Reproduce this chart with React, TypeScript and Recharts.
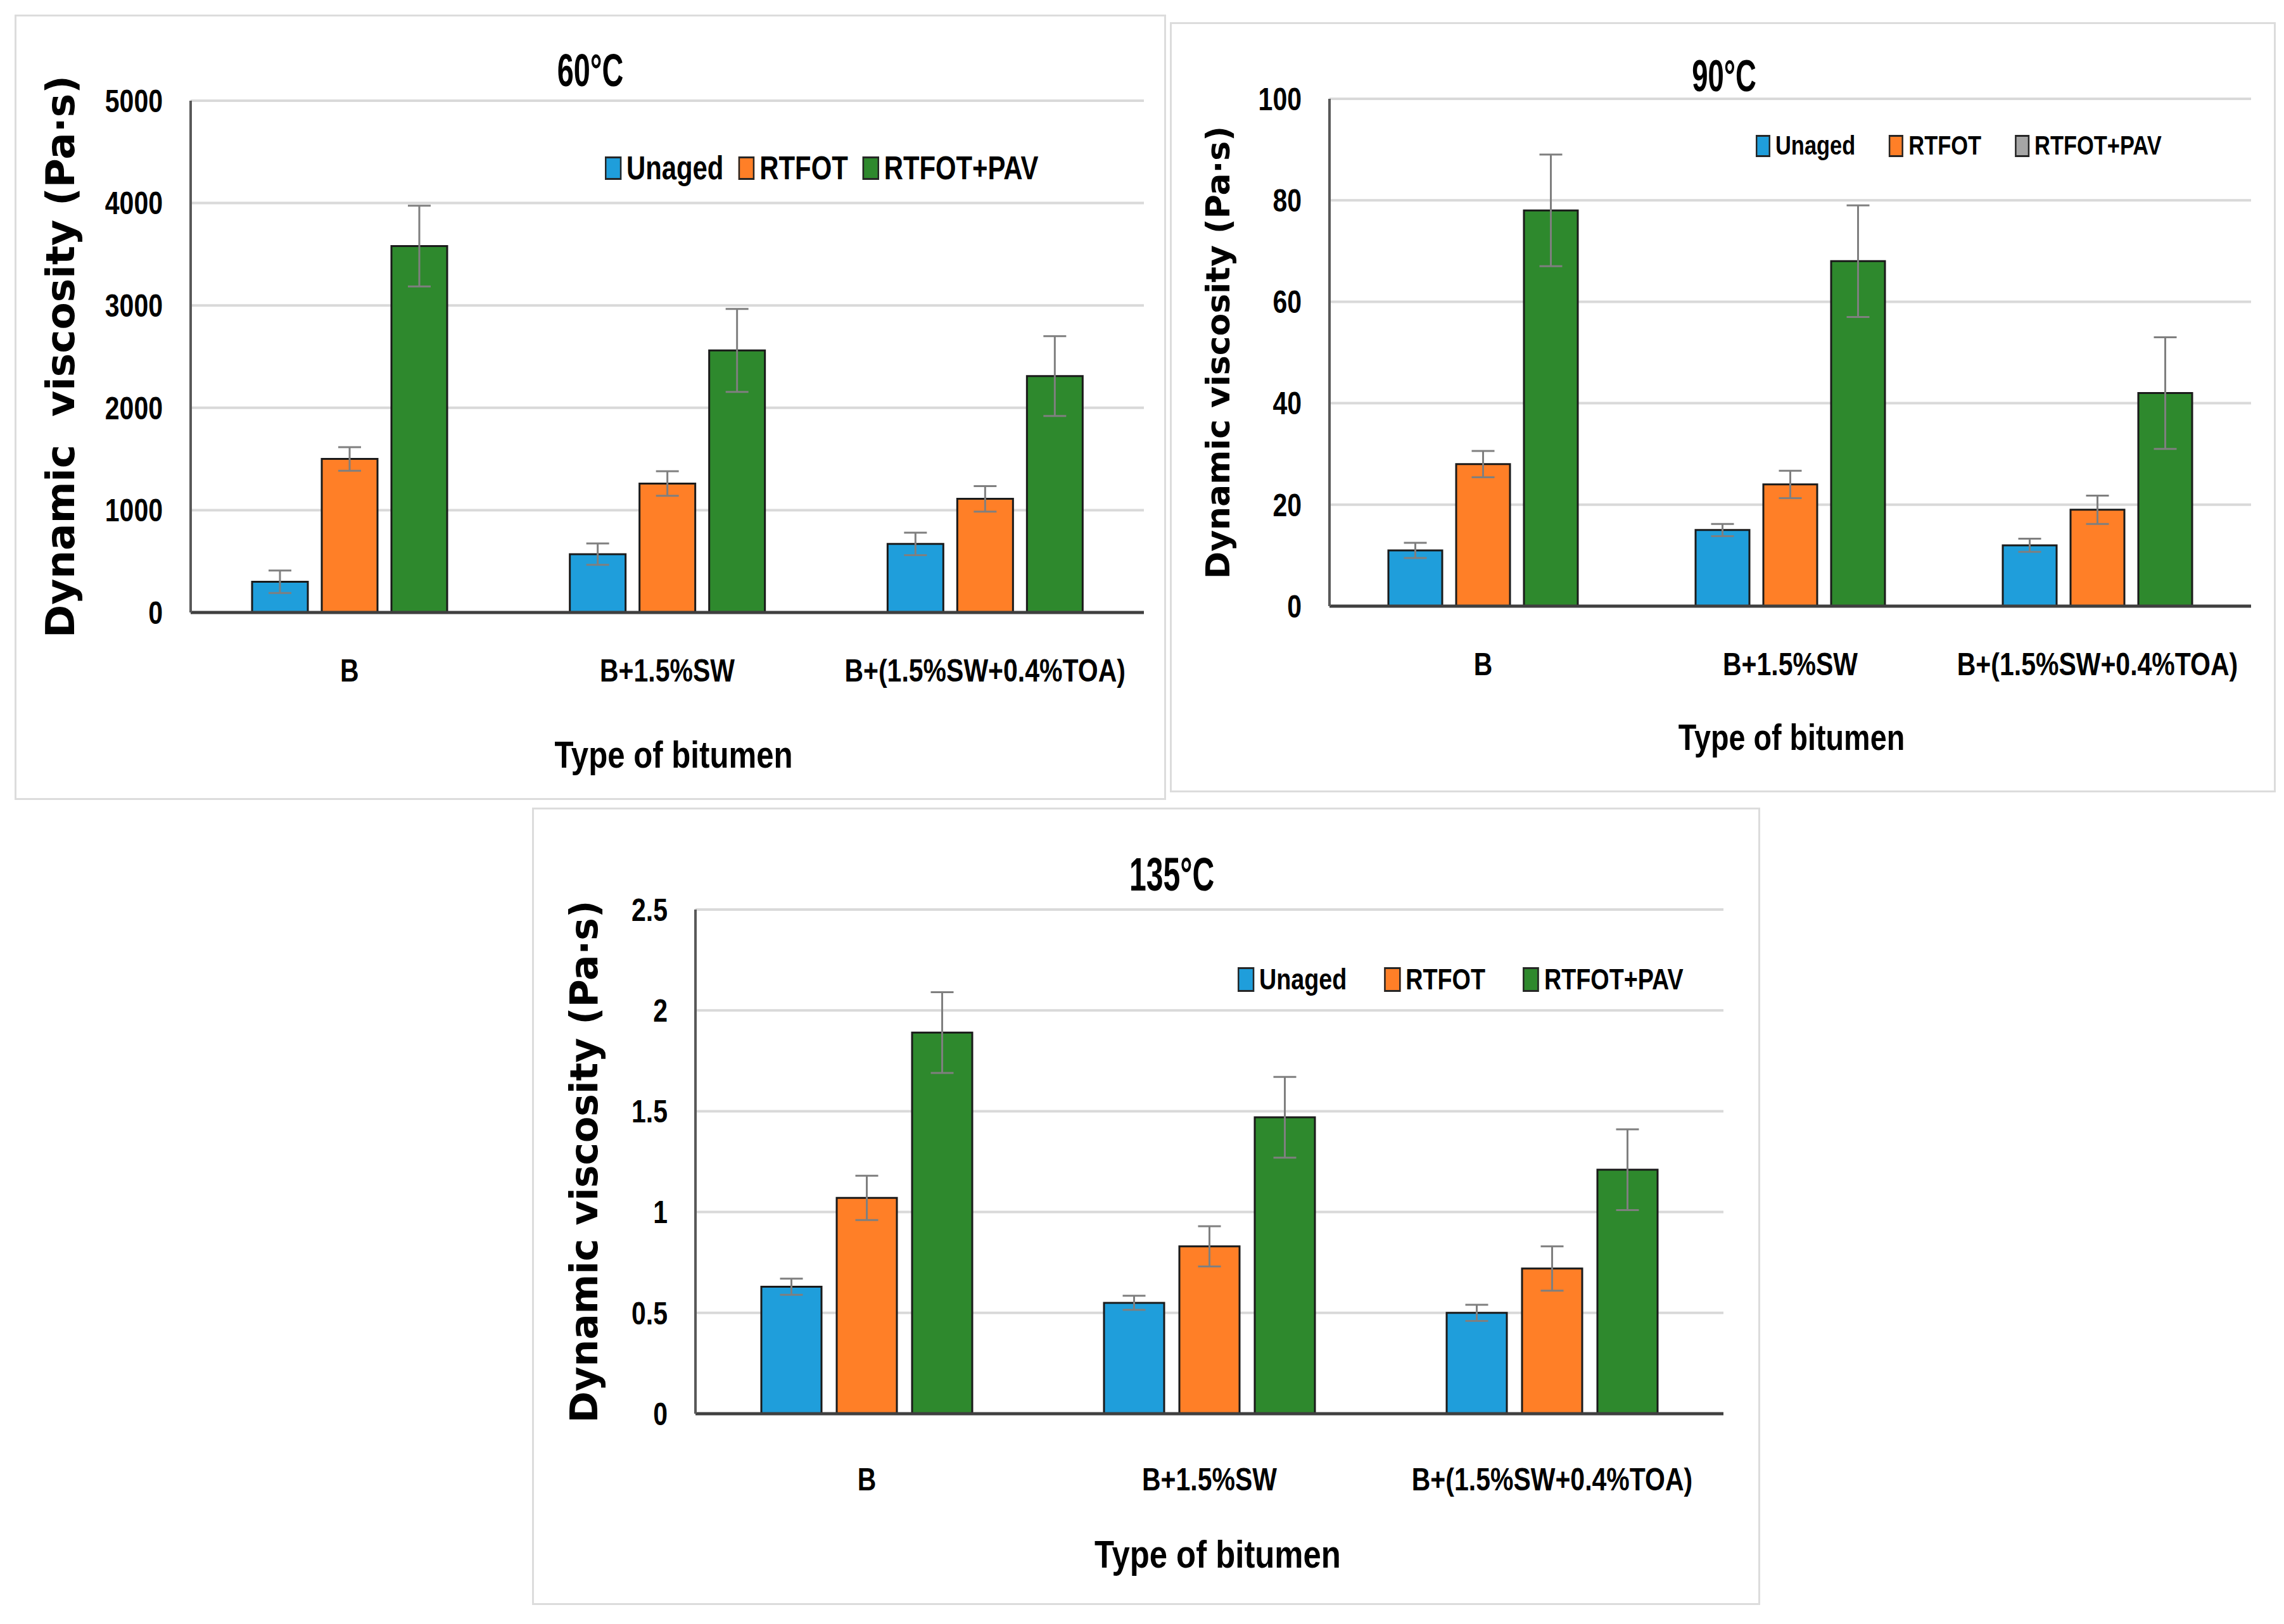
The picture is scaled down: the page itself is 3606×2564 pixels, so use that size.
import React from "react";
import { BarChart, Bar, XAxis, YAxis, CartesianGrid, ErrorBar, Legend } from "recharts";

const categories = ["B", "B+1.5%SW", "B+(1.5%SW+0.4%TOA)"];
const seriesNames = ["Unaged", "RTFOT", "RTFOT+PAV"];

// 60 °C
const unaged60 = [300, 570, 670];
const unaged60Err = [110, 105, 110];
const rtfot60 = [1500, 1260, 1110];
const rtfot60Err = [115, 120, 125];
const pav60 = [3580, 2560, 2310];
const pav60Err = [395, 405, 390];
const ticks60 = [0, 1000, 2000, 3000, 4000, 5000];

// 90 °C
const unaged90 = [11, 15, 12];
const unaged90Err = [1.5, 1.2, 1.3];
const rtfot90 = [28, 24, 19];
const rtfot90Err = [2.6, 2.7, 2.8];
const pav90 = [78, 68, 42];
const pav90Err = [11, 11, 11];
const ticks90 = [0, 20, 40, 60, 80, 100];

// 135 °C
const unaged135 = [0.63, 0.55, 0.5];
const unaged135Err = [0.04, 0.035, 0.04];
const rtfot135 = [1.07, 0.83, 0.72];
const rtfot135Err = [0.11, 0.1, 0.11];
const pav135 = [1.89, 1.47, 1.21];
const pav135Err = [0.2, 0.2, 0.2];
const ticks135 = [0, 0.5, 1, 1.5, 2, 2.5];

const BLUE = "#1f9edb";
const ORANGE = "#ff7f27";
const GREEN = "#2e892d";
const GREY = "#a6a6a6";

// Liberation Sans squeezed horizontally stands in for the narrow font of the original
const NARROW = "'Liberation Sans', Arial, sans-serif";
const SX = 0.82;
const WIDE = "'DejaVu Sans', Verdana, sans-serif";

function buildRows(u: number[], ue: number[], r: number[], re: number[], p: number[], pe: number[]) {
  return categories.map((name, i) => ({
    name,
    unaged: u[i],
    unagedErr: ue[i],
    rtfot: r[i],
    rtfotErr: re[i],
    pav: p[i],
    pavErr: pe[i],
  }));
}

const panels = [
  {
    key: "p60",
    rows: buildRows(unaged60, unaged60Err, rtfot60, rtfot60Err, pav60, pav60Err),
    ticks: ticks60,
    legendColors: [BLUE, ORANGE, GREEN],
    title: "60°C",
    yTitle: "Dynamic\u00a0 viscosity (Pa·s)",
    left: 23, top: 23, width: 1818, height: 1240,
    plotTop: 136, plotRight: 35, yWidth: 278, xHeight: 296,
    barSize: 88, barGap: 22,
    titleX: 909, titleY: 88, titleSize: 72,
    yTitleX: 72, yTitleSize: 63,
    xTickMargin: 73, xTitleOffset: 51, xTitleSize: 60, xTitleDx: 10,
    lg: { left: 932, cy: 242, font: 51, boxW: 26, boxH: 37, gap: 8, spacing: 23 },
  },
  {
    key: "p90",
    rows: buildRows(unaged90, unaged90Err, rtfot90, rtfot90Err, pav90, pav90Err),
    ticks: ticks90,
    legendColors: [BLUE, ORANGE, GREY],
    title: "90°C",
    yTitle: "Dynamic viscosity (Pa·s)",
    left: 1847, top: 35, width: 1746, height: 1216,
    plotTop: 121, plotRight: 39, yWidth: 252, xHeight: 294,
    barSize: 85, barGap: 22,
    titleX: 875, titleY: 85, titleSize: 70,
    yTitleX: 76, yTitleSize: 52,
    xTickMargin: 73, xTitleOffset: 67, xTitleSize: 57, xTitleDx: 2,
    lg: { left: 925, cy: 195, font: 42, boxW: 23, boxH: 35, gap: 8, spacing: 53 },
  },
  {
    key: "p135",
    rows: buildRows(unaged135, unaged135Err, rtfot135, rtfot135Err, pav135, pav135Err),
    ticks: ticks135,
    legendColors: [BLUE, ORANGE, GREEN],
    title: "135°C",
    yTitle: "Dynamic viscosity (Pa·s)",
    left: 840, top: 1275, width: 1939, height: 1259,
    plotTop: 161, plotRight: 58, yWidth: 258, xHeight: 302,
    barSize: 95, barGap: 24,
    titleX: 1010, titleY: 106, titleSize: 74,
    yTitleX: 82, yTitleSize: 60,
    xTickMargin: 85, xTitleOffset: 59, xTitleSize: 62, xTitleDx: 13,
    lg: { left: 1114, cy: 271, font: 46, boxW: 26, boxH: 39, gap: 8, spacing: 59 },
  },
];

type PanelCfg = (typeof panels)[number];

function XTick(props: any) {
  const { x, y, payload } = props;
  return (
    <text
      transform={`translate(${x},${y}) scale(${SX},1)`}
      textAnchor="middle"
      dy="0.71em"
      fontFamily={NARROW}
      fontWeight={700}
      fontSize={50}
      fill="#000"
    >
      {payload.value}
    </text>
  );
}

function YTick(props: any) {
  const { x, y, payload } = props;
  return (
    <text
      transform={`translate(${x},${y}) scale(${SX},1)`}
      textAnchor="end"
      dy="0.355em"
      fontFamily={NARROW}
      fontWeight={700}
      fontSize={50}
      fill="#000"
    >
      {payload.value}
    </text>
  );
}

function makeXTitle(cfg: PanelCfg) {
  return (props: any) => {
    const vb = props.viewBox || {};
    const cx = vb.x + vb.width / 2 + cfg.xTitleDx;
    const by = vb.y + vb.height - cfg.xTitleOffset;
    return (
      <text
        transform={`translate(${cx},${by}) scale(${SX},1)`}
        textAnchor="middle"
        fontFamily={NARROW}
        fontWeight={700}
        fontSize={cfg.xTitleSize}
        fill="#000"
      >
        Type of bitumen
      </text>
    );
  };
}

function makeLegend(cfg: PanelCfg) {
  const lg = cfg.lg;
  return () => (
    <div
      style={{
        display: "flex",
        alignItems: "center",
        fontFamily: NARROW,
        fontWeight: 700,
        fontSize: lg.font,
        lineHeight: `${Math.round(lg.font * 1.2)}px`,
        color: "#000",
        whiteSpace: "nowrap",
        transform: `scaleX(${SX})`,
        transformOrigin: "left center",
      }}
    >
      {seriesNames.map((name, i) => (
        <div
          key={name}
          style={{ display: "flex", alignItems: "center", marginRight: i < 2 ? lg.spacing / SX : 0 }}
        >
          <span
            style={{
              display: "inline-block",
              width: lg.boxW / SX,
              height: lg.boxH,
              background: cfg.legendColors[i],
              border: "3px solid #262626",
              boxSizing: "border-box",
              marginRight: lg.gap / SX,
            }}
          />
          <span>{name}</span>
        </div>
      ))}
    </div>
  );
}

function Panel({ cfg }: { cfg: PanelCfg }) {
  const lineH = Math.round(cfg.lg.font * 1.2);
  return (
    <div
      style={{
        position: "absolute",
        left: cfg.left,
        top: cfg.top,
        width: cfg.width,
        height: cfg.height,
        background: "#fff",
        boxShadow: "inset 0 0 0 3px #dcdcdc",
      }}
    >
      <div
        style={{
          position: "absolute",
          left: cfg.titleX - 200,
          width: 400,
          top: cfg.titleY - 45,
          height: 90,
          lineHeight: "90px",
          textAlign: "center",
          fontFamily: NARROW,
          fontWeight: 700,
          fontSize: cfg.titleSize,
          color: "#000",
          transform: "scaleX(0.65)",
        }}
      >
        {cfg.title}
      </div>
      <BarChart
        width={cfg.width}
        height={cfg.height}
        data={cfg.rows}
        margin={{ top: cfg.plotTop, right: cfg.plotRight, left: 0, bottom: 0 }}
        barGap={cfg.barGap}
        style={{ position: "absolute", left: 0, top: 0 }}
      >
        <CartesianGrid vertical={false} stroke="#d9d9d9" strokeWidth={4} />
        <XAxis
          dataKey="name"
          height={cfg.xHeight}
          interval={0}
          tickLine={false}
          tickSize={0}
          tickMargin={cfg.xTickMargin}
          axisLine={{ stroke: "#3f3f3f", strokeWidth: 5 }}
          tick={<XTick />}
          label={makeXTitle(cfg)}
        />
        <YAxis
          width={cfg.yWidth}
          domain={[0, cfg.ticks[cfg.ticks.length - 1]]}
          ticks={cfg.ticks}
          interval={0}
          tickLine={false}
          tickSize={0}
          tickMargin={44}
          axisLine={{ stroke: "#595959", strokeWidth: 4 }}
          tick={<YTick />}
          label={{
            value: cfg.yTitle,
            angle: -90,
            position: "insideLeft",
            offset: cfg.yTitleX,
            style: { textAnchor: "middle", fontFamily: WIDE, fontWeight: 700, fontSize: cfg.yTitleSize, fill: "#000" },
          }}
        />
        <Legend
          layout="horizontal"
          align="center"
          verticalAlign="middle"
          content={makeLegend(cfg)}
          wrapperStyle={{ left: cfg.lg.left, top: cfg.lg.cy - lineH / 2, width: "auto", height: "auto" }}
        />
        <Bar dataKey="unaged" name="Unaged" fill={BLUE} stroke="#1a1a1a" strokeWidth={3} barSize={cfg.barSize} isAnimationActive={false}>
          <ErrorBar dataKey="unagedErr" direction="y" width={18} strokeWidth={3} stroke="#7f7f7f" isAnimationActive={false} />
        </Bar>
        <Bar dataKey="rtfot" name="RTFOT" fill={ORANGE} stroke="#1a1a1a" strokeWidth={3} barSize={cfg.barSize} isAnimationActive={false}>
          <ErrorBar dataKey="rtfotErr" direction="y" width={18} strokeWidth={3} stroke="#7f7f7f" isAnimationActive={false} />
        </Bar>
        <Bar dataKey="pav" name="RTFOT+PAV" fill={GREEN} stroke="#1a1a1a" strokeWidth={3} barSize={cfg.barSize} isAnimationActive={false}>
          <ErrorBar dataKey="pavErr" direction="y" width={18} strokeWidth={3} stroke="#7f7f7f" isAnimationActive={false} />
        </Bar>
      </BarChart>
    </div>
  );
}

export default function App() {
  return (
    <div style={{ position: "relative", width: 3606, height: 2564, background: "#fff" }}>
      <style>{"body{margin:0}"}</style>
      {panels.map((cfg) => (
        <Panel key={cfg.key} cfg={cfg} />
      ))}
    </div>
  );
}
